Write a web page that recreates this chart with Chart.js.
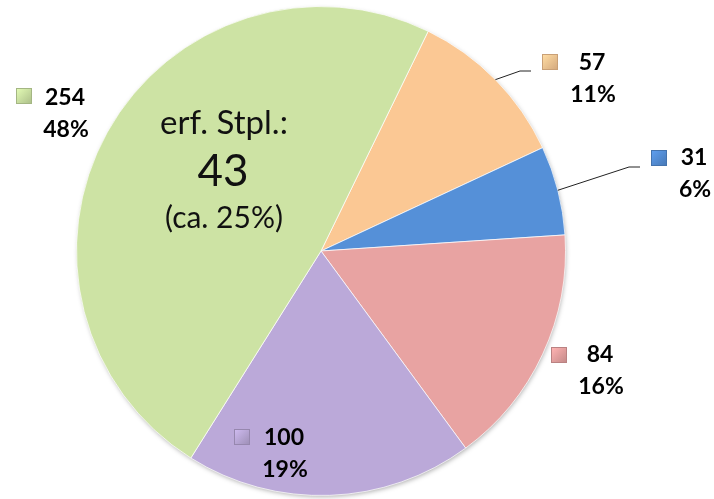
<!DOCTYPE html>
<html>
<head>
<meta charset="utf-8">
<script src="https://cdn.jsdelivr.net/npm/chart.js@4.4.1/dist/chart.umd.min.js"></script>
<style>
  html, body { margin: 0; padding: 0; background: #fff; }
  #wrap { width: 714px; height: 499px; position: relative; }
</style>
</head>
<body>
<div id="wrap"><canvas id="chart"></canvas></div>
<script>
const categories = ['57', '31', '84', '100', '254'];
const values = [57, 31, 84, 100, 254];
const percents = ['11%', '6%', '16%', '19%', '48%'];
const sliceColors = ['#fbc894', '#5590d8', '#e8a3a2', '#bba9d9', '#cde3a4'];
const noteLines = ['erf. Stpl.:', '43', '(ca. 25%)'];

// label spots, offsets from pie centre (square centre, text centre x)
const labelSpots = [
  { sq: [229, -189], tx: 271, ty: -188, line: true },
  { sq: [338, -93], tx: 373, ty: -93, line: true },
  { sq: [238, 104], tx: 279, ty: 104 },
  { sq: [-79, 186], tx: -37, ty: 187 },
  { sq: [-297, -155], tx: -256, ty: -153 }
];

function shade(hex, f) {
  const n = parseInt(hex.slice(1), 16);
  let r = (n >> 16) & 255, g = (n >> 8) & 255, b = n & 255;
  r = Math.round(r * f); g = Math.round(g * f); b = Math.round(b * f);
  return 'rgb(' + Math.min(r, 255) + ',' + Math.min(g, 255) + ',' + Math.min(b, 255) + ')';
}

const pieShadow = {
  id: 'pieShadow',
  beforeDatasetsDraw(chart) {
    const arc = chart.getDatasetMeta(0).data[0];
    if (!arc) return;
    const c = chart.ctx;
    c.save();
    c.shadowColor = 'rgba(0,0,0,0.35)';
    c.shadowBlur = 5;
    c.shadowOffsetX = 1;
    c.shadowOffsetY = 2;
    c.fillStyle = '#fff';
    c.beginPath();
    c.arc(arc.x, arc.y, arc.outerRadius - 1, 0, Math.PI * 2);
    c.fill();
    c.restore();
  }
};

const pieLabels = {
  id: 'pieLabels',
  afterDatasetsDraw(chart) {
    const meta = chart.getDatasetMeta(0);
    const c = chart.ctx;
    const cx = meta.data[0].x, cy = meta.data[0].y, r = meta.data[0].outerRadius;
    c.save();
    meta.data.forEach((arc, i) => {
      const s = labelSpots[i];
      const sx = cx + s.sq[0], sy = cy + s.sq[1];
      if (s.line) {
        const mid = (arc.startAngle + arc.endAngle) / 2;
        const px = cx + Math.cos(mid) * r, py = cy + Math.sin(mid) * r;
        c.strokeStyle = '#222';
        c.lineWidth = 1;
        c.beginPath();
        c.moveTo(px, py);
        c.lineTo(sx - 30, sy + 9);
        c.lineTo(sx - 19, sy + 9);
        c.stroke();
      }
      const g = c.createLinearGradient(sx - 7, sy - 7, sx + 7, sy + 7);
      g.addColorStop(0, shade(sliceColors[i], 1.1));
      g.addColorStop(1, shade(sliceColors[i], 0.85));
      c.fillStyle = g;
      c.fillRect(sx - 7.5, sy - 7.5, 15, 15);
      c.strokeStyle = shade(sliceColors[i], 0.8);
      c.strokeRect(sx - 7.5, sy - 7.5, 15, 15);
      c.fillStyle = '#000';
      c.font = 'bold 23px Lato, "Open Sans", sans-serif';
      c.textAlign = 'center';
      c.textBaseline = 'middle';
      c.fillText(categories[i], cx + s.tx, cy + s.ty);
      c.fillText(percents[i], cx + s.tx + 1, cy + s.ty + 32);
    });
    // note inside the big slice
    c.fillStyle = '#111';
    c.font = '33px Lato, "Open Sans", sans-serif';
    c.fillText(noteLines[0], cx - 97, cy - 128);
    c.font = '44px Lato, "Open Sans", sans-serif';
    c.fillText(noteLines[1], cx - 98, cy - 79);
    c.font = '30px Lato, "Open Sans", sans-serif';
    c.fillText(noteLines[2], cx - 97, cy - 33);
    c.restore();
  }
};

const ctx = document.getElementById('chart').getContext('2d');
const chart = new Chart(ctx, {
  type: 'pie',
  data: {
    labels: categories,
    datasets: [{
      data: values,
      backgroundColor: (context) => {
        const base = sliceColors[context.dataIndex];
        const el = context.element;
        if (!el || !el.outerRadius) return base;
        const g = context.chart.ctx.createRadialGradient(el.x, el.y, 0, el.x, el.y, el.outerRadius);
        g.addColorStop(0, base);
        g.addColorStop(0.9, base);
        g.addColorStop(1, shade(base, 0.9));
        return g;
      },
      borderColor: 'rgba(255,255,255,0.7)',
      borderWidth: 1
    }]
  },
  options: {
    responsive: true,
    maintainAspectRatio: false,
    animation: false,
    rotation: 26,
    layout: { padding: { left: 76, right: 148, top: 6, bottom: 3 } },
    plugins: {
      legend: { display: false },
      tooltip: { enabled: false }
    }
  },
  plugins: [pieShadow, pieLabels]
});
</script>
</body>
</html>
